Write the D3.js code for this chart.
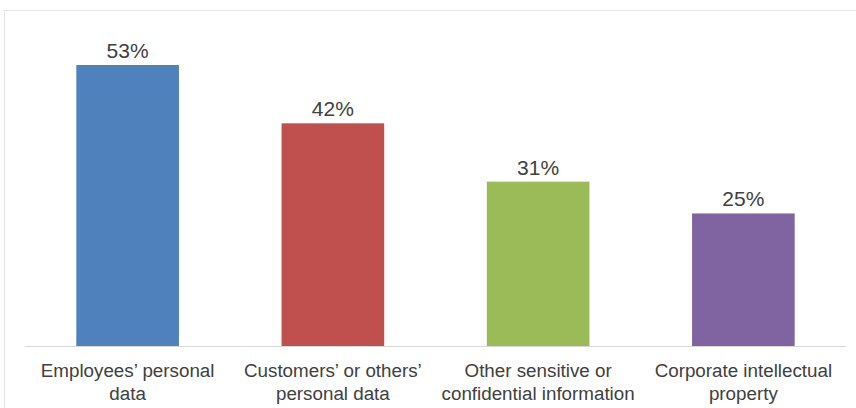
<!DOCTYPE html>
<html>
<head>
<meta charset="utf-8">
<script src="https://cdn.jsdelivr.net/npm/d3@7"></script>
<style>
  html, body { margin: 0; padding: 0; background: #fff; }
  text { font-family: "Liberation Sans", Arial, sans-serif; fill: #404040; }
</style>
</head>
<body>
<svg id="chart" width="856" height="408"></svg>
<script>
// data
var categories = [
  ["Employees\u2019 personal", "data"],
  ["Customers\u2019 or others\u2019", "personal data"],
  ["Other sensitive or", "confidential information"],
  ["Corporate intellectual", "property"]
];
var values = [53, 42, 31, 25];
var colors = ["#4f81bd", "#c0504d", "#9bbb59", "#8064a2"];

var svg = d3.select("#chart");
var baseY = 346;

// chart frame
svg.append("rect")
  .attr("x", 4.5).attr("y", 10.5)
  .attr("width", 860).attr("height", 410)
  .attr("fill", "none")
  .attr("stroke", "#e6e6e6");

var x = d3.scaleBand()
  .domain(d3.range(values.length))
  .range([25, 846])
  .paddingInner(0.5)
  .paddingOuter(0.25);

var y = d3.scaleLinear()
  .domain([0, 53])
  .range([baseY, 65]);

svg.selectAll("rect.bar")
  .data(values)
  .enter().append("rect")
  .attr("class", "bar")
  .attr("x", function (d, i) { return x(i); })
  .attr("y", function (d) { return y(d); })
  .attr("width", x.bandwidth())
  .attr("height", function (d) { return baseY - y(d); })
  .attr("fill", function (d, i) { return colors[i]; });

// baseline
svg.append("line")
  .attr("x1", 25).attr("x2", 846)
  .attr("y1", baseY + 0.5).attr("y2", baseY + 0.5)
  .attr("stroke", "#d9d9d9");

// value labels
svg.selectAll("text.val")
  .data(values)
  .enter().append("text")
  .attr("class", "val")
  .attr("x", function (d, i) { return x(i) + x.bandwidth() / 2; })
  .attr("y", function (d) { return y(d) - 7; })
  .attr("text-anchor", "middle")
  .attr("font-size", "21px")
  .text(function (d) { return d + "%"; });

// category labels
var cat = svg.selectAll("text.cat")
  .data(categories)
  .enter().append("text")
  .attr("class", "cat")
  .attr("text-anchor", "middle")
  .attr("font-size", "18.8px");
cat.each(function (lines, i) {
  var t = d3.select(this);
  lines.forEach(function (s, k) {
    t.append("tspan")
      .attr("x", x(i) + x.bandwidth() / 2)
      .attr("y", 377 + k * 23)
      .text(s);
  });
});
</script>
</body>
</html>
